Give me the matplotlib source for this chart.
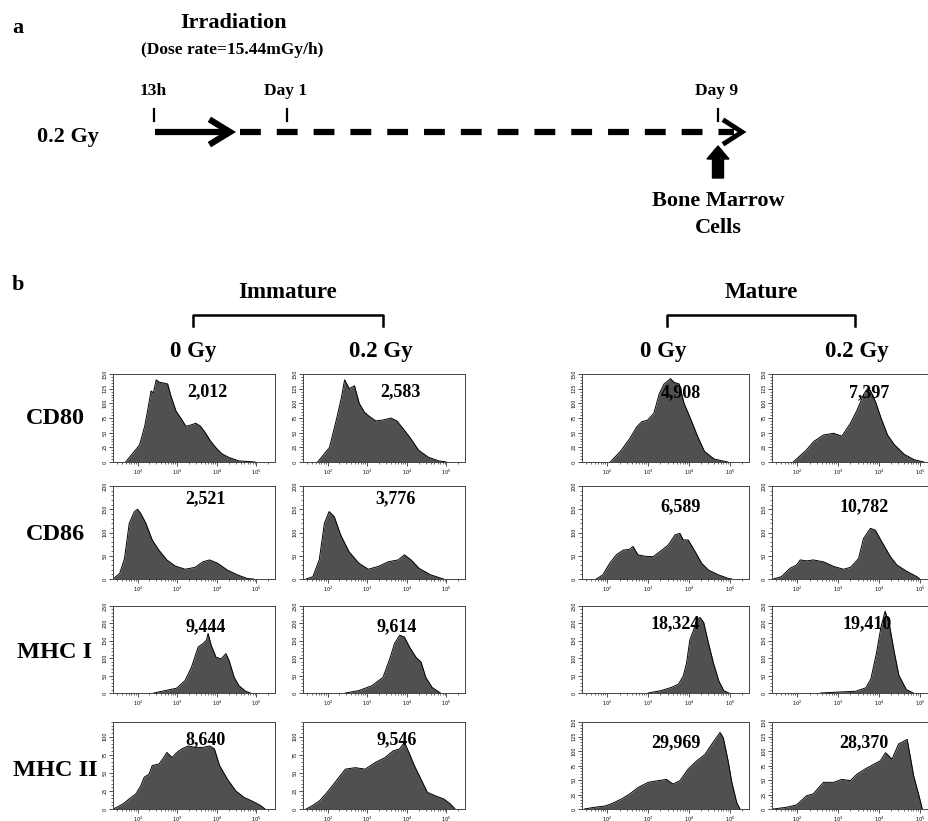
import matplotlib
matplotlib.use("Agg")
import matplotlib.pyplot as plt
import numpy as np
from matplotlib.patches import FancyArrow
from matplotlib.ticker import MultipleLocator, AutoMinorLocator, LogLocator, LogFormatterSciNotation, NullFormatter

plt.rcParams['lines.scale_dashes'] = False
SERIF = ['Liberation Serif', 'DejaVu Serif']

# ---- data: histogram outlines, x = log10(intensity), y = cell count ----
cd80_imm0_x = [1.70, 1.88, 2.05, 2.18, 2.26, 2.34, 2.40, 2.47, 2.55, 2.63, 2.76, 2.84, 2.97, 3.09, 3.22, 3.34, 3.47, 3.59, 3.72, 3.84, 3.97, 4.13, 4.30, 4.55, 4.97]
cd80_imm0_y = [0, 15, 29, 61, 90, 121, 118, 140, 136, 135, 133, 113, 87, 75, 61, 63, 66, 61, 49, 36, 25, 14, 8, 2, 0]
cd80_imm2_x = [1.75, 2.05, 2.25, 2.35, 2.43, 2.55, 2.68, 2.80, 2.93, 3.05, 3.22, 3.43, 3.60, 3.75, 3.93, 4.10, 4.30, 4.55, 4.80, 5.00]
cd80_imm2_y = [0, 25, 80, 110, 140, 125, 130, 100, 85, 78, 70, 72, 75, 70, 55, 40, 20, 8, 2, 0]
cd80_mat0_x = [2.07, 2.32, 2.56, 2.72, 2.85, 2.98, 3.14, 3.27, 3.39, 3.55, 3.63, 3.76, 3.88, 4.05, 4.21, 4.38, 4.62, 4.95]
cd80_mat0_y = [0, 18, 41, 60, 69, 71, 83, 116, 133, 142, 136, 133, 100, 72, 44, 18, 5, 0]
cd80_mat2_x = [1.90, 2.23, 2.40, 2.64, 2.89, 3.09, 3.30, 3.46, 3.63, 3.72, 3.79, 3.92, 4.04, 4.21, 4.37, 4.62, 4.86, 5.10]
cd80_mat2_y = [0, 21, 35, 46, 49, 44, 66, 88, 116, 125, 122, 102, 77, 46, 30, 13, 4, 0]

cd86_imm0_x = [1.38, 1.55, 1.67, 1.79, 1.92, 2.00, 2.08, 2.21, 2.37, 2.54, 2.74, 2.95, 3.20, 3.45, 3.65, 3.82, 4.02, 4.27, 4.52, 4.77, 4.93]
cd86_imm0_y = [0, 12, 44, 120, 145, 150, 141, 120, 84, 62, 41, 28, 21, 25, 37, 41, 34, 19, 9, 1, 0]
cd86_imm2_x = [1.46, 1.63, 1.79, 1.92, 2.04, 2.17, 2.33, 2.54, 2.79, 3.03, 3.28, 3.53, 3.78, 3.94, 4.11, 4.31, 4.60, 4.93]
cd86_imm2_y = [0, 5, 41, 120, 145, 134, 95, 59, 34, 21, 27, 37, 41, 52, 41, 23, 9, 0]
cd86_mat0_x = [1.73, 1.89, 2.06, 2.22, 2.39, 2.55, 2.63, 2.75, 2.92, 3.12, 3.29, 3.49, 3.66, 3.78, 3.86, 3.98, 4.15, 4.31, 4.48, 4.72, 4.97, 5.05]
cd86_mat0_y = [0, 9, 34, 52, 62, 64, 70, 52, 49, 48, 59, 73, 95, 98, 84, 84, 59, 34, 19, 9, 1, 0]
cd86_mat2_x = [1.41, 1.61, 1.82, 1.98, 2.07, 2.23, 2.39, 2.64, 2.89, 3.13, 3.30, 3.50, 3.62, 3.79, 3.91, 4.07, 4.28, 4.44, 4.69, 4.93, 5.00]
cd86_mat2_y = [0, 5, 23, 30, 41, 39, 41, 37, 27, 21, 25, 44, 87, 109, 105, 80, 48, 30, 16, 5, 0]

mhc1_imm0_x = [2.41, 2.70, 2.99, 3.20, 3.36, 3.53, 3.65, 3.74, 3.78, 3.86, 3.98, 4.11, 4.23, 4.31, 4.44, 4.56, 4.73, 4.85]
mhc1_imm0_y = [0, 7, 14, 36, 74, 132, 142, 152, 171, 137, 103, 98, 113, 94, 45, 21, 5, 0]
mhc1_imm2_x = [2.45, 2.79, 3.12, 3.40, 3.57, 3.69, 3.82, 3.94, 4.07, 4.23, 4.36, 4.48, 4.64, 4.85]
mhc1_imm2_y = [0, 7, 21, 45, 98, 142, 166, 161, 132, 103, 89, 45, 16, 0]
mhc1_mat0_x = [3.00, 3.32, 3.57, 3.74, 3.86, 3.94, 4.02, 4.11, 4.19, 4.27, 4.36, 4.48, 4.60, 4.73, 4.85, 4.98]
mhc1_mat0_y = [0, 7, 16, 25, 49, 86, 152, 180, 212, 217, 203, 142, 86, 35, 7, 0]
mhc1_mat2_x = [2.57, 3.06, 3.43, 3.68, 3.80, 3.93, 4.05, 4.15, 4.25, 4.37, 4.49, 4.67, 4.84]
mhc1_mat2_y = [0, 3, 5, 15, 40, 110, 190, 235, 200, 120, 50, 10, 0]

mhc2_imm0_x = [1.38, 1.46, 1.63, 1.79, 1.96, 2.08, 2.17, 2.29, 2.37, 2.54, 2.66, 2.74, 2.87, 2.99, 3.12, 3.28, 3.45, 3.65, 3.82, 3.94, 4.07, 4.27, 4.48, 4.69, 4.89, 5.10, 5.22]
mhc2_imm0_y = [0, 2, 7, 14, 21, 32, 44, 48, 60, 62, 71, 78, 71, 78, 83, 87, 85, 85, 87, 83, 60, 41, 25, 16, 11, 5, 0]
mhc2_imm2_x = [1.46, 1.63, 1.79, 1.96, 2.12, 2.29, 2.45, 2.70, 2.95, 3.20, 3.45, 3.65, 3.82, 3.94, 4.07, 4.19, 4.36, 4.52, 4.73, 4.93, 5.10, 5.22]
mhc2_imm2_y = [0, 5, 11, 21, 32, 44, 55, 57, 55, 64, 71, 80, 83, 92, 76, 60, 41, 23, 18, 14, 7, 0]
mhc2_mat0_x = [1.44, 1.69, 1.93, 2.10, 2.34, 2.55, 2.75, 3.00, 3.25, 3.45, 3.61, 3.78, 3.98, 4.19, 4.39, 4.56, 4.76, 4.84, 4.95, 5.05, 5.17, 5.25]
mhc2_mat0_y = [0, 3, 5, 9, 17, 26, 37, 46, 49, 51, 43, 49, 69, 83, 94, 112, 132, 123, 86, 46, 11, 0]
mhc2_mat2_x = [1.41, 1.74, 1.98, 2.23, 2.39, 2.64, 2.89, 3.09, 3.30, 3.46, 3.66, 3.87, 4.03, 4.16, 4.32, 4.48, 4.69, 4.77, 4.85, 4.98, 5.06]
mhc2_mat2_y = [0, 3, 7, 23, 26, 46, 46, 51, 49, 60, 69, 77, 83, 97, 86, 112, 120, 89, 57, 23, 0]

markers = ['CD80', 'CD86', 'MHC I', 'MHC II']
mfi = [['2,012', '2,583', '4,908', '7,397'],
       ['2,521', '3,776', '6,589', '10,782'],
       ['9,444', '9,614', '18,324', '19,410'],
       ['8,640', '9,546', '29,969', '28,370']]
ymax = [[150, 150, 150, 150], [200, 200, 200, 200], [250, 250, 250, 250], [120, 120, 150, 150]]
ystep = [25, 50, 50, 25]

curves = [[(cd80_imm0_x, cd80_imm0_y), (cd80_imm2_x, cd80_imm2_y), (cd80_mat0_x, cd80_mat0_y), (cd80_mat2_x, cd80_mat2_y)],
          [(cd86_imm0_x, cd86_imm0_y), (cd86_imm2_x, cd86_imm2_y), (cd86_mat0_x, cd86_mat0_y), (cd86_mat2_x, cd86_mat2_y)],
          [(mhc1_imm0_x, mhc1_imm0_y), (mhc1_imm2_x, mhc1_imm2_y), (mhc1_mat0_x, mhc1_mat0_y), (mhc1_mat2_x, mhc1_mat2_y)],
          [(mhc2_imm0_x, mhc2_imm0_y), (mhc2_imm2_x, mhc2_imm2_y), (mhc2_mat0_x, mhc2_mat0_y), (mhc2_mat2_x, mhc2_mat2_y)]]

# ---- layout in pixels ----
W, H = 929, 821
fig = plt.figure(figsize=(W / 100, H / 100), dpi=100)

ov = fig.add_axes([0, 0, 1, 1])
ov.set_xlim(0, W)
ov.set_ylim(H, 0)
ov.axis('off')

def txt(x, y, s, size, ha='center'):
    ov.text(x, y, s, fontsize=size, fontweight='bold', family=SERIF, ha=ha, va='center')

# panel a: timeline
txt(18, 28, 'a', 16)
txt(234, 23, 'Irradiation', 16)
txt(232, 50, '(Dose rate=15.44mGy/h)', 12.5)
txt(153, 91, '13h', 12.5)
txt(286, 91, 'Day 1', 12.5)
txt(717, 91, 'Day 9', 12.5)
txt(68, 137, '0.2 Gy', 16)
for tx in [154, 287, 718]:
    ov.plot([tx, tx], [109, 121], color='black', lw=1.6)
ov.plot([155, 226], [132, 132], color='black', lw=4.5, solid_capstyle='butt')
ov.plot([212, 230, 212], [121, 132, 143], color='black', lw=4.5, solid_joinstyle='miter')
ov.plot([240, 734], [132, 132], color='black', lw=4.5, dashes=(15, 11.5))
ov.plot([725, 742, 725], [121, 132, 143], color='black', lw=3.5, solid_joinstyle='miter')
ov.add_patch(FancyArrow(718, 178, 0, -32, width=11, head_width=22, head_length=13,
                        length_includes_head=True, color='black'))
txt(718, 201, 'Bone Marrow', 16)
txt(718, 228, 'Cells', 16)

# panel b headers
txt(18, 285, 'b', 16)
for label, x0, x1 in [('Immature', 193, 383), ('Mature', 667, 855)]:
    txt((x0 + x1) / 2, 292, label, 16.5)
    ov.plot([x0, x0, x1, x1], [326, 315, 315, 326], color='black', lw=1.8)
for label, x in [('0 Gy', 193), ('0.2 Gy', 381), ('0 Gy', 663), ('0.2 Gy', 857)]:
    txt(x, 352, label, 16.5)

row_top = [374, 486, 606, 722]
row_bot = [462, 579, 693, 809]
row_lab_y = [418, 535, 652, 770]
col_left = [113, 303, 582, 772]
col_w = [162, 162, 167, 167]
txt_pos = [[(0.58, 0.80), (0.60, 0.80), (0.59, 0.79), (0.58, 0.79)],
           [(0.57, 0.86), (0.57, 0.86), (0.59, 0.78), (0.55, 0.78)],
           [(0.57, 0.76), (0.58, 0.76), (0.56, 0.80), (0.57, 0.80)],
           [(0.57, 0.80), (0.58, 0.80), (0.56, 0.76), (0.55, 0.76)]]

for r in range(4):
    txt(55, row_lab_y[r], markers[r], 17.5)
    for c in range(4):
        l = col_left[c] / W
        b = 1 - row_bot[r] / H
        ax = fig.add_axes([l, b, col_w[c] / W, (row_bot[r] - row_top[r]) / H])
        lx, cnt = curves[r][c]
        xs = 10 ** np.array(lx)
        ax.fill_between(xs, cnt, color='#505050', lw=0)
        ax.plot(xs, cnt, color='black', lw=0.7)
        ax.set_xscale('log')
        ax.set_xlim(10 ** 1.38, 10 ** 5.47)
        ax.set_ylim(0, ymax[r][c])
        ax.xaxis.set_major_locator(LogLocator(base=10, numticks=10))
        ax.xaxis.set_minor_locator(LogLocator(base=10, subs=np.arange(2, 10), numticks=10))
        ax.xaxis.set_major_formatter(LogFormatterSciNotation())
        ax.xaxis.set_minor_formatter(NullFormatter())
        ax.yaxis.set_major_locator(MultipleLocator(ystep[r]))
        ax.yaxis.set_minor_locator(AutoMinorLocator(5))
        ax.tick_params(axis='both', which='major', length=3, width=0.6, labelsize=3.5, pad=0.8, color='#333333')
        ax.tick_params(axis='both', which='minor', length=1.6, width=0.5, color='#333333')
        ax.tick_params(axis='y', labelrotation=90)
        for lab in ax.get_yticklabels():
            lab.set_va('center')
        for s in ax.spines.values():
            s.set_linewidth(0.7)
            s.set_color('#444444')
        tx, ty = txt_pos[r][c]
        ax.text(tx, ty, mfi[r][c], transform=ax.transAxes, fontsize=13, fontweight='bold',
                family=SERIF, ha='center', va='center', zorder=5)

fig.savefig('out.png', dpi=100)
